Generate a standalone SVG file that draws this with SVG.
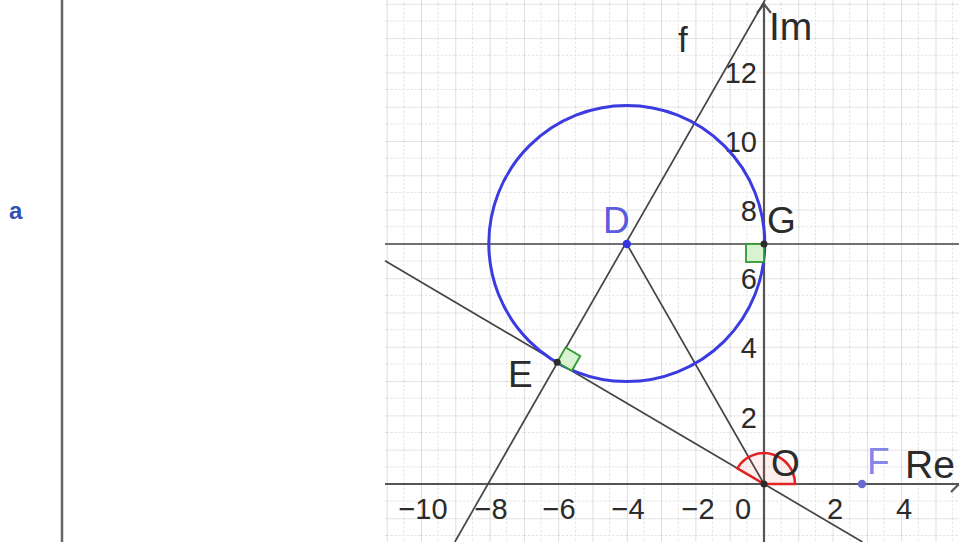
<svg xmlns="http://www.w3.org/2000/svg" width="959" height="542" viewBox="0 0 959 542">
  <defs>
    <pattern id="grid" x="764" y="484" width="34.3" height="34.3" patternUnits="userSpaceOnUse">
      <path d="M17.15 0 V34.3 M0 17.15 H34.3" stroke="#dedede" stroke-width="1" stroke-dasharray="2 2" fill="none"/>
      <path d="M0 0 V34.3 M0 0 H34.3" stroke="#c9c9c9" stroke-width="1.2" fill="none"/>
    </pattern>
    <style>
      .t { font-family: "Liberation Sans", Arial, sans-serif; fill: #2b2b2b; }
      .tick { font-size: 29px; }
      .lbl { font-size: 37px; }
      .geo { stroke: #444; stroke-width: 1.7; fill: none; }
      .axis { stroke: #555; stroke-width: 2.2; fill: none; }
      .ra { fill: #d9f2d2; stroke: #2e9a2e; stroke-width: 1.8; }
    </style>
  </defs>
  <rect width="959" height="542" fill="#ffffff"/>

  <!-- left panel -->
  <g id="algebra-panel">
    <line x1="62" y1="0" x2="62" y2="542" stroke="#666" stroke-width="2.5"/>
    <text x="9" y="219" font-family="Liberation Sans, Arial, sans-serif" font-size="24" font-weight="bold" fill="#3151b5">a</text>
  </g>

  <!-- grid -->
  <rect x="385" y="0" width="574" height="542" fill="url(#grid)"/>

  <!-- axes -->
  <g id="axes">
    <line class="axis" x1="385" y1="484" x2="959" y2="484"/>
    <line class="axis" x1="764" y1="542" x2="764" y2="4"/>
    <polyline class="axis" points="757,13 764,4 771,13"/>
    <polyline class="axis" points="951,492 959,484"/>
    <g class="t tick" text-anchor="end">
      <text x="757" y="83">12</text>
      <text x="757" y="152">10</text>
      <text x="757" y="221">8</text>
      <text x="757" y="289">6</text>
      <text x="757" y="358">4</text>
      <text x="757" y="428">2</text>
    </g>
    <g class="t tick" text-anchor="middle">
      <text x="423" y="519">−10</text>
      <text x="491" y="519">−8</text>
      <text x="559" y="519">−6</text>
      <text x="628" y="519">−4</text>
      <text x="698" y="519">−2</text>
      <text x="743" y="519">0</text>
      <text x="835" y="519">2</text>
      <text x="904" y="519">4</text>
    </g>
    <text class="t" x="769" y="40" font-size="39">Im</text>
    <text class="t" x="905" y="478" font-size="39">Re</text>
  </g>

  <!-- connectors / lines -->
  <g id="connectors">
    <line id="line-f" class="geo" x1="454.8" y1="542" x2="765" y2="0"/>
    <line id="tangent-OE" class="geo" x1="385" y1="260.8" x2="862.5" y2="542"/>
    <line id="line-DG" class="geo" x1="385" y1="244" x2="959" y2="244"/>
    <line id="segment-DO" class="geo" x1="626.8" y1="244" x2="764" y2="484"/>
  </g>

  <!-- circle -->
  <g id="circle">
    <circle cx="626.8" cy="243.5" r="138" fill="none" stroke="#3b3be0" stroke-width="3"/>
  </g>

  <!-- right angle markers -->
  <g id="right-angle-G">
    <rect class="ra" x="746" y="244" width="18" height="18"/>
  </g>
  <g id="right-angle-E">
    <polygon class="ra" points="557.2,362.2 565.6,347.4 580.3,356.0 571.8,370.8"/>
  </g>

  <!-- angle at O -->
  <g id="angle-O">
    <path d="M764 484 L795 484 A31 31 0 0 0 737.3 468.3 Z" fill="#ff3030" fill-opacity="0.08" stroke="#e02424" stroke-width="2.6"/>
  </g>

  <!-- points -->
  <g id="node-D">
    <circle cx="626.8" cy="244" r="4.2" fill="#3535e0"/>
    <text class="t lbl" x="603" y="233" style="fill:#5b5be0">D</text>
  </g>
  <g id="node-G">
    <circle cx="764" cy="244" r="3.5" fill="#2b2b2b"/>
    <text class="t lbl" x="767" y="233">G</text>
  </g>
  <g id="node-E">
    <circle cx="557.2" cy="362.2" r="3.5" fill="#2b2b2b"/>
    <text class="t lbl" x="508" y="387">E</text>
  </g>
  <g id="node-O">
    <circle cx="764" cy="484" r="3.5" fill="#2b2b2b"/>
    <text class="t lbl" x="771" y="476">O</text>
  </g>
  <g id="node-F">
    <circle cx="862" cy="484" r="4.2" fill="#6a6ad2"/>
    <text class="t lbl" x="867" y="474" style="fill:#8585ea">F</text>
  </g>
  <g id="label-f">
    <text class="t" x="678" y="52" font-size="35">f</text>
  </g>
</svg>
